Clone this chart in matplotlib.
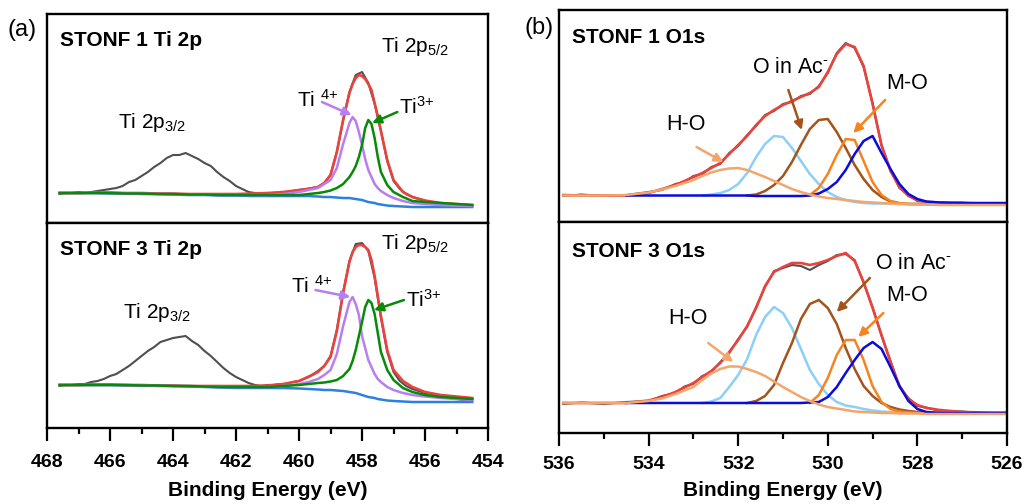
import numpy as np
import matplotlib.pyplot as plt

plt.rcParams['font.family'] = 'Liberation Sans'
plt.rcParams['mathtext.fontset'] = 'custom'
plt.rcParams['mathtext.rm'] = 'Liberation Sans'
plt.rcParams['mathtext.it'] = 'Liberation Sans:italic'
plt.rcParams['mathtext.bf'] = 'Liberation Sans:bold'

nan = np.nan

# ---------------- Ti 2p data (intensity, a.u.) ----------------
e_ti = [467.6, 467.0, 466.5, 466.0, 465.5, 465.0, 464.5, 464.0, 463.5, 463.0,
        462.5, 462.0, 461.5, 461.0, 460.5, 460.0, 459.7, 459.4, 459.2, 459.0,
        458.8, 458.6, 458.4, 458.3, 458.2, 458.1, 458.0, 457.9, 457.8, 457.7,
        457.6, 457.5, 457.4, 457.2, 457.0, 456.7, 456.4, 456.0, 455.5, 455.0,
        454.5]

# raw spectra
e_ti_raw = [467.6, 467.4, 467.2, 467.0, 466.8, 466.6, 466.4, 466.2, 466.0, 465.8,
            465.6, 465.4, 465.2, 465.0, 464.8, 464.6, 464.4, 464.2, 464.0, 463.8,
            463.6, 463.4, 463.2, 463.0, 462.8, 462.6, 462.4, 462.2, 462.0, 461.8,
            461.6, 461.4, 461.2, 461.0, 460.8, 460.6, 460.4, 460.2, 460.0, 459.8,
            459.6, 459.4, 459.2, 459.0, 458.8, 458.6, 458.4, 458.2, 458.0, 457.8,
            457.6, 457.4, 457.2, 457.0, 456.8, 456.6, 456.4, 456.2, 456.0, 455.8,
            455.6, 455.4, 455.2, 455.0, 454.8, 454.6]
raw_ti1 = [29, 30, 30, 31, 30, 31, 32, 33, 34, 35,
           37, 41, 43, 47, 51, 56, 60, 65, 68, 68,
           70, 67, 64, 60, 57, 51, 46, 42, 37, 34,
           31, 30, 29, 30, 30, 31, 31, 32, 33, 34,
           35, 36, 40, 48, 71, 103, 131, 148, 151, 140,
           119, 92, 62, 42, 34, 29, 26, 24, 22, 21,
           20, 20, 19, 18, 18, 18]
raw_ti3 = [42, 43, 43, 44, 44, 46, 47, 49, 52, 54,
           58, 62, 67, 72, 77, 81, 86, 88, 90, 91,
           92, 87, 83, 77, 72, 66, 60, 55, 51, 48,
           45, 43, 42, 43, 43, 44, 44, 46, 47, 50,
           53, 57, 62, 72, 98, 136, 167, 184, 185, 177,
           150, 110, 76, 56, 47, 42, 39, 37, 35, 34,
           32, 31, 30, 29, 28, 28]

# STONF 1 fits
bg_ti1 = [30, 30, 30, 29.5, 29.5, 29, 29, 28.5, 28, 28,
          27.5, 27.5, 27, 27, 27, 27, 27, 26.5, 26, 26,
          25.5, 25, 25, 24.5, 24, 23.5, 23, 22, 21, 20.5,
          20, 19, 18.5, 17.5, 17, 16.5, 16, 16, 16, 16,
          16]
ti4_ti1 = [30, 30, 30, 30, 29.5, 29.5, 29, 29, 28.5, 28.5,
           28, 28, 28, 28, 29, 31, 33, 35, 39, 43,
           55, 79, 100, 106, 102, 91, 78, 64, 53, 46,
           39, 35, 32, 28, 25, 22, 20, 19, 18, 17.5,
           17]
ti3_ti1 = [30, 30, 30, 30, 29.5, 29.5, 29, 29, 28.5, 28.5,
           28, 28, 28, 28, 28, 28, 29, 30, 31, 32.5,
           35, 39, 46, 51, 57, 66, 78, 95, 103, 99,
           85, 66, 51, 38, 31, 26, 22, 21, 20, 19,
           18]
fit_ti1 = [30, 30, 30.5, 30.5, 30, 30, 29.5, 29.5, 29, 29,
           29, 29, 29.5, 30, 31, 33, 34, 36, 40, 48,
           71, 103, 130, 139, 145, 148, 147, 144, 139, 133,
           120, 107, 92, 63, 43, 31, 26, 22.5, 20, 19,
           18]

# STONF 3 fits
bg_ti3 = [43, 43, 43, 43, 42.5, 42.5, 42, 42, 41.5, 41,
          40.5, 40, 40, 40, 40, 39.5, 39, 38.5, 38, 38,
          37.5, 37, 36, 35.5, 35, 34, 33, 32, 31, 30.5,
          30, 29, 28.5, 27.5, 27, 26.5, 26, 26, 26, 26,
          26]
ti4_ti3 = [43, 43, 43, 43, 43, 42.5, 42.5, 42, 42, 41.5,
           41, 41, 41, 41, 42, 44, 46, 49, 53, 58,
           74, 102, 126, 131, 124, 113, 92, 80, 68, 61,
           54, 49, 46, 41, 38, 35, 33, 31.5, 30, 29,
           28]
ti3_ti3 = [43, 43, 43, 43, 43, 42.5, 42.5, 42, 42, 41.5,
           41, 41, 41, 41, 42, 43, 44, 45, 45.5, 46.5,
           48, 52, 59, 67, 78, 92, 106, 121, 128, 125,
           114, 95, 76, 58, 48, 40, 36, 33, 31, 30,
           29]
fit_ti3 = [43, 43, 43.5, 43.5, 43, 43, 42.5, 42.5, 42, 42,
           42, 42, 42, 42.5, 44, 47, 51, 56, 62, 71,
           97, 135, 166, 176, 181, 183, 183, 181, 178, 168,
           152, 132, 112, 78, 58, 47, 41, 36, 33, 31.5,
           30]

# ---------------- O 1s data ----------------
e_o = [535.9, 535.5, 535.0, 534.5, 534.0, 533.7, 533.4, 533.2, 533.0, 532.8,
       532.6, 532.4, 532.2, 532.0, 531.8, 531.6, 531.4, 531.2, 531.0, 530.8,
       530.6, 530.4, 530.2, 530.0, 529.8, 529.6, 529.4, 529.2, 529.0, 528.8,
       528.6, 528.4, 528.2, 528.0, 527.8, 527.5, 527.0, 526.5, 526.0]

raw_o1 = [26, 27.5, 26, 27, 30, 32, 38, 40, 46, 48,
          55, 58, 69, 76, 87, 96, 107, 111, 118, 120,
          126, 128, 136, 149, 169, 179, 174, 155, 119, 76,
          52, 34, 27, 21, 20, 18.5, 19.5, 17.5, 18.5]
fit_o1 = [27, 26.5, 26.5, 26.5, 29, 33, 37, 41, 45, 49,
          54, 59, 68, 77, 86, 97, 106, 112, 117, 121,
          125, 129, 135, 150, 168, 178, 175, 156, 118, 77,
          51, 35, 26, 22, 20, 19.5, 19, 18.5, 18]
ho_o1 = [26.5, 26.5, 26.5, 27, 29.5, 32.5, 36, 39, 42, 46,
         49.5, 52, 53.5, 54, 52, 48.5, 45, 41, 37, 33,
         30, 27.5, 25.5, 24, 23, 22, 21, 20, 19.5, 19,
         18.5, 18, 18, 17.5, 17.5, 17, 17, 17, 17]
lb_o1 = [nan, nan, nan, nan, nan, nan, nan, nan, nan, 26.5,
         27.5, 29, 32, 38, 49, 65, 78, 86, 85, 74,
         61, 48, 38, 30, 25, 22, 20, 19, 18.5, 18.5,
         18.5, 18, 18, 18, 18, 18, 18, 17.5, 17.5]
ac_o1 = [nan, nan, nan, nan, nan, nan, nan, nan, nan, nan,
         nan, nan, nan, nan, 26.5, 27.5, 31, 37, 46, 60,
         77, 93, 102, 103, 90, 74, 57, 43, 32, 25,
         20.5, 18.5, 18, 18, 18, 18, 18, 17.5, 17.5]
mo_o1 = [nan, nan, nan, nan, nan, nan, nan, nan, nan, nan,
         nan, nan, nan, nan, nan, nan, nan, nan, nan, nan,
         nan, 27, 34, 48, 67, 83, 82, 61, 40, 27,
         21, 19, 18, 18, 18, 18, 18, 17.5, 17.5]
db_o1 = [nan, nan, nan, 26.5, 26.5, 26.5, 26.5, 26.5, 26.5, 26.5,
         26.5, 26.5, 26.5, 26.5, 26.5, 26, 26, 26, 26, 26,
         26, 26.5, 28.5, 33, 40, 52, 68, 81, 86, 69,
         53, 38, 28, 23, 20.5, 19.5, 19, 19, 19]

raw_o3 = [29, 30.5, 29, 31, 32, 37, 40, 46.5, 49, 57,
          61, 71, 80, 94, 106, 126, 146, 162, 165, 168,
          167, 163, 168, 172, 178, 179, 173, 150, 126, 97,
          72, 46, 35, 27, 25.5, 22, 21.5, 19.5, 20.5]
fit_o3 = [30, 30, 30, 30, 32.5, 36, 41, 45.5, 50, 56,
          62, 70, 81, 93, 107, 125, 147, 161, 166, 170,
          170, 168, 170, 173, 177, 180, 172, 151, 125, 98,
          71, 47, 34, 28, 25, 23, 21, 20.5, 20]
ho_o3 = [30, 30, 30, 30, 32, 34.5, 39, 42.5, 46, 53,
         59.5, 64, 66.5, 66.5, 64, 61, 57, 51.5, 46, 41,
         36, 32, 28.5, 26, 24.5, 23, 21.5, 21, 20.5, 20,
         20, 19.5, 19.5, 19.5, 19, 19, 19, 19, 19]
lb_o3 = [nan, nan, nan, nan, nan, nan, nan, nan, nan, 30,
         31.5, 35, 46, 58, 74, 98, 116, 126, 120, 105,
         84, 63, 49, 38, 31, 27.5, 26, 24, 22.5, 21.5,
         21, 20.5, 20, 20, 20, 20, 20, 19.5, 19.5]
ac_o3 = [nan, nan, nan, nan, nan, nan, nan, nan, nan, nan,
         nan, nan, nan, nan, 30, 32, 37, 48, 70, 90,
         114, 129, 133, 125, 109, 85, 64, 47, 37, 30,
         26, 23.5, 22, 21, 20.5, 20, 20, 19.5, 19.5]
mo_o3 = [nan, nan, nan, nan, nan, nan, nan, nan, nan, nan,
         nan, nan, nan, nan, nan, nan, nan, nan, nan, nan,
         nan, 30, 38, 55, 78, 93, 93, 73, 47, 31,
         24, 21.5, 20.5, 20, 20, 20, 20, 19.5, 19.5]
db_o3 = [nan, nan, nan, 30, 30, 30, 30, 30, 30, 30,
         30, 30, 30, 30, 30, 30, 30, 30, 30, 30,
         30, 30.5, 31, 36, 46, 60, 73, 85, 91, 84,
         66, 47, 32, 24, 21, 20, 20, 20, 20]

ti_ticks = [468, 466, 464, 462, 460, 458, 456, 454]
o_ticks = [536, 534, 532, 530, 528, 526]

# colours
c_raw = '#4f4f4f'
c_fit = '#e8433e'
c_bg = '#2f7fdf'
c_ti4 = '#b77ef2'
c_ti3 = '#078a07'
c_lb = '#8ccff8'
c_ac = '#a3541c'
c_mo = '#f5841f'
c_db = '#0b0bdc'
c_ho = '#f2a66b'

fig = plt.figure(figsize=(10.27, 5.04), dpi=100)

# axes rectangles (left, bottom, width, height)
ax_a1 = fig.add_axes([0.0458, 0.5575, 0.4294, 0.4147])
ax_a3 = fig.add_axes([0.0458, 0.1508, 0.4294, 0.4067])
ax_b1 = fig.add_axes([0.5443, 0.5595, 0.4362, 0.4207])
ax_b3 = fig.add_axes([0.5443, 0.1409, 0.4362, 0.4186])


def style(ax, xlim, ylim, ticks, bottom, pad=10):
    ax.set_xlim(*xlim)
    ax.set_ylim(*ylim)
    ax.set_yticks([])
    for s in ax.spines.values():
        s.set_linewidth(1.7)
    if bottom:
        ax.set_xticks(ticks)
        ax.set_xticks(np.arange(min(ticks), max(ticks) + 1, 1), minor=True)
        ax.tick_params(axis='x', which='major', direction='out', length=9,
                       width=1.6, labelsize=14, pad=pad)
        ax.tick_params(axis='x', which='minor', direction='out', length=4.5,
                       width=1.6)
        plt.setp(ax.get_xticklabels(), fontweight='bold')
    else:
        ax.set_xticks([])


def arrow(ax, start, tip, color):
    ax.annotate('', xy=tip, xytext=start,
                arrowprops=dict(arrowstyle='-|>', color=color, lw=1.8,
                                mutation_scale=13, shrinkA=0, shrinkB=0))


# ---- (a) Ti 2p ----
for ax, raw, fit, bg, t4, t3, ymax in [(ax_a1, raw_ti1, fit_ti1, bg_ti1, ti4_ti1, ti3_ti1, 209),
                                       (ax_a3, raw_ti3, fit_ti3, bg_ti3, ti4_ti3, ti3_ti3, 205)]:
    ax.plot(e_ti_raw, raw, color=c_raw, lw=1.5)
    ax.plot(e_ti, bg, color=c_bg, lw=1.8)
    ax.plot(e_ti, fit, color=c_fit, lw=1.9)
    ax.plot(e_ti, t4, color=c_ti4, lw=1.8)
    ax.plot(e_ti, t3, color=c_ti3, lw=1.8)
    style(ax, (468, 454), (0, ymax), ti_ticks, ax is ax_a3, pad=9.5)

fs = 15
fb = 15
ax_a1.text(0.03, 0.875, 'STONF 1 Ti 2p', transform=ax_a1.transAxes, fontsize=fb,
           fontweight='bold', va='center')
ax_a1.text(465.74, 95, 'Ti 2p$_{3/2}$', fontsize=fs, va='baseline')
ax_a1.text(457.41, 171, 'Ti 2p$_{5/2}$', fontsize=fs, va='baseline')
ax_a1.text(460.05, 116, 'Ti $^{\\text{4+}}$', fontsize=fs, va='baseline')
ax_a1.text(456.84, 109, 'Ti$^{\\text{3+}}$', fontsize=fs, va='baseline')
arrow(ax_a1, (459.27, 121), (458.33, 108), c_ti4)
arrow(ax_a1, (456.88, 111), (457.68, 100), c_ti3)

ax_a3.text(0.03, 0.873, 'STONF 3 Ti 2p', transform=ax_a3.transAxes, fontsize=fb,
           fontweight='bold', va='center')
ax_a3.text(465.58, 110, 'Ti 2p$_{3/2}$', fontsize=fs, va='baseline')
ax_a3.text(457.41, 179, 'Ti 2p$_{5/2}$', fontsize=fs, va='baseline')
ax_a3.text(460.27, 135, 'Ti $^{\\text{4+}}$', fontsize=fs, va='baseline')
ax_a3.text(456.62, 121, 'Ti$^{\\text{3+}}$', fontsize=fs, va='baseline')
arrow(ax_a3, (459.48, 138), (458.37, 131), c_ti4)
arrow(ax_a3, (456.67, 128), (457.62, 118), c_ti3)

# ---- (b) O 1s ----
for ax, raw, fit, ho, lb, ac, mo, db, ymax in [
        (ax_b1, raw_o1, fit_o1, ho_o1, lb_o1, ac_o1, mo_o1, db_o1, 212),
        (ax_b3, raw_o3, fit_o3, ho_o3, lb_o3, ac_o3, mo_o3, db_o3, 211)]:
    ax.plot(e_o, raw, color=c_raw, lw=1.5)
    ax.plot(e_o, fit, color=c_fit, lw=1.9)
    ax.plot(e_o, lb, color=c_lb, lw=1.8)
    ax.plot(e_o, ac, color=c_ac, lw=1.8)
    ax.plot(e_o, mo, color=c_mo, lw=1.8)
    ax.plot(e_o, db, color=c_db, lw=1.8)
    ax.plot(e_o, ho, color=c_ho, lw=1.8)
    style(ax, (536, 526), (0, ymax), o_ticks, ax is ax_b3, pad=7.5)

fo = 15.5
ax_b1.text(0.029, 0.868, 'STONF 1 O1s', transform=ax_b1.transAxes, fontsize=fb,
           fontweight='bold', va='center')
ax_b1.text(533.6, 92, 'H-O', fontsize=fo, va='baseline')
ax_b1.text(531.7, 149, 'O in Ac$^{\\text{-}}$', fontsize=fo, va='baseline')
ax_b1.text(528.69, 133, 'M-O', fontsize=fo, va='baseline')
arrow(ax_b1, (532.93, 75), (532.33, 60), c_ho)
arrow(ax_b1, (530.88, 132), (530.58, 92), c_ac)
arrow(ax_b1, (528.72, 122), (529.43, 89), c_mo)

ax_b3.text(0.029, 0.862, 'STONF 3 O1s', transform=ax_b3.transAxes, fontsize=fb,
           fontweight='bold', va='center')
ax_b3.text(533.56, 109, 'H-O', fontsize=fo, va='baseline')
ax_b3.text(528.95, 164, 'O in Ac$^{\\text{-}}$', fontsize=fo, va='baseline')
ax_b3.text(528.69, 132, 'M-O', fontsize=fo, va='baseline')
arrow(ax_b3, (532.67, 90), (532.11, 71), c_ho)
arrow(ax_b3, (529.06, 155), (529.8, 121), c_ac)
arrow(ax_b3, (528.76, 120), (529.32, 96), c_mo)

fig.text(0.0214, 0.940, '(a)', fontsize=17, ha='center', va='center')
fig.text(0.525, 0.944, '(b)', fontsize=17, ha='center', va='center')
fig.text(267.5 / 1027, 1 - 491 / 504, 'Binding Energy (eV)', fontsize=15,
         fontweight='bold', ha='center', va='center')
fig.text(783 / 1027, 1 - 490 / 504, 'Binding Energy (eV)', fontsize=15,
         fontweight='bold', ha='center', va='center')

fig.savefig('out.png', dpi=100)
